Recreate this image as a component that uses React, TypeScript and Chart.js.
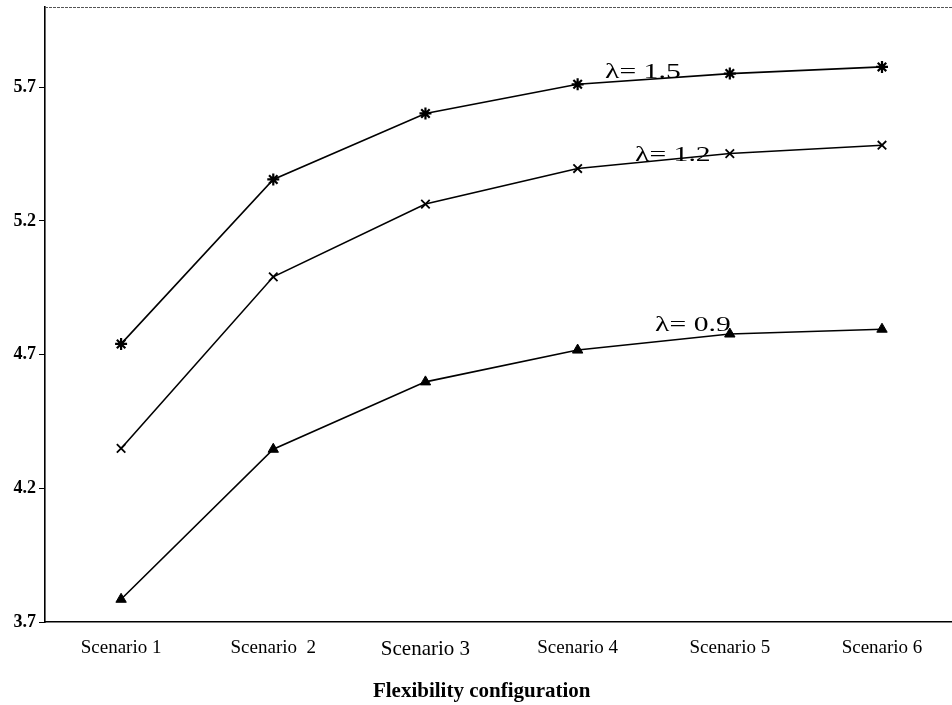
import React, { useEffect, useRef } from "react";
import { Chart, registerables } from "chart.js";

Chart.register(...registerables);

const categories = ["Scenario 1", "Scenario  2", "Scenario 3", "Scenario 4", "Scenario 5", "Scenario 6"];
const lambda15 = [4.74, 5.355, 5.602, 5.711, 5.751, 5.776];
const lambda12 = [4.349, 4.991, 5.263, 5.396, 5.452, 5.483];
const lambda09 = [3.785, 4.346, 4.598, 4.717, 4.777, 4.795];
const yTicks = [3.7, 4.2, 4.7, 5.2, 5.7];
const seriesLabels = ["λ= 1.5", "λ= 1.2", "λ= 0.9"];
const labelX = [4.18, 4.377, 4.509];
const labelY = [5.756, 5.446, 4.81];
const xTitle = "Flexibility configuration";

const SERIF = "'Liberation Serif', 'Times New Roman', serif";

const annotatePlugin = {
  id: "annotate",
  afterDraw(chart: any) {
    const { ctx, chartArea, scales } = chart;
    ctx.save();
    // top border
    ctx.strokeStyle = "#555";
    ctx.lineWidth = 1;
    ctx.setLineDash([3, 1]);
    ctx.beginPath();
    ctx.moveTo(chartArea.left, chartArea.top + 0.5);
    ctx.lineTo(chartArea.right, chartArea.top + 0.5);
    ctx.stroke();
    ctx.setLineDash([]);
    // series labels
    ctx.fillStyle = "#000";
    ctx.font = `22px ${SERIF}`;
    ctx.textBaseline = "middle";
    ctx.textAlign = "left";
    seriesLabels.forEach((t, i) => {
      const x = scales.x.getPixelForValue(labelX[i]);
      const y = scales.y.getPixelForValue(labelY[i]);
      ctx.save();
      ctx.translate(x, y);
      ctx.scale(1.35, 1);
      ctx.fillText(t, 0, 0);
      ctx.restore();
    });
    // axis title
    ctx.font = `bold 21px ${SERIF}`;
    ctx.textAlign = "center";
    ctx.fillText(xTitle, chart.width * 0.506, scales.x.bottom - 13);
    ctx.restore();
  },
};

export default function App() {
  const ref = useRef<HTMLCanvasElement | null>(null);
  useEffect(() => {
    if (!ref.current) return;
    const mk = (vals: number[], style: string, radius: number, bw: number) => ({
      data: vals.map((v, i) => ({ x: i + 1, y: v })),
      borderColor: "#000",
      backgroundColor: "#000",
      borderWidth: 1.6,
      pointStyle: style,
      pointRadius: radius,
      pointBorderWidth: bw,
      pointBorderColor: "#000",
      pointBackgroundColor: "#000",
      tension: 0,
    });
    const chart = new Chart(ref.current, {
      type: "line",
      data: {
        datasets: [
          mk(lambda15, "star", 6, 2.2),
          mk(lambda12, "crossRot", 6, 1.8),
          mk(lambda09, "triangle", 6, 1),
        ],
      },
      options: {
        responsive: false,
        animation: false,
        layout: { autoPadding: false, padding: { top: 7, left: 0, right: 0, bottom: 0 } },
        plugins: { legend: { display: false }, tooltip: { enabled: false } },
        scales: {
          x: {
            type: "linear",
            min: 0.5,
            max: 6.46,
            afterBuildTicks: (s: any) => {
              s.ticks = categories.map((_, i) => ({ value: i + 1 }));
            },
            afterFit: (s: any) => {
              s.height = 83;
              s.paddingLeft = 0;
              s.paddingRight = 0;
            },
            grid: { display: false, drawTicks: false },
            border: { display: true, color: "#000", width: 1.6 },
            ticks: {
              color: "#000",
              padding: 15,
              maxRotation: 0,
              autoSkip: false,
              font: (c: any) => ({ family: SERIF, size: c.index === 2 ? 21 : 19 }),
              callback: (v: any) => categories[Math.round(Number(v)) - 1] ?? "",
            },
            title: { display: false },
          },
          y: {
            type: "linear",
            min: 3.7,
            max: 6.0,
            afterBuildTicks: (s: any) => {
              s.ticks = yTicks.map((v) => ({ value: v }));
            },
            afterFit: (s: any) => {
              s.width = 45;
              s.paddingTop = 0;
              s.paddingBottom = 0;
            },
            grid: { display: true, drawOnChartArea: false, drawTicks: true, tickLength: 6, color: "#000" },
            border: { display: true, color: "#000", width: 1.6 },
            ticks: {
              color: "#000",
              padding: 3,
              font: { family: SERIF, size: 18, weight: "bold" },
              callback: (v: any) => Number(v).toFixed(1),
            },
          },
        },
      },
      plugins: [annotatePlugin],
    } as any);
    return () => chart.destroy();
  }, []);
  return (
    <div style={{ position: "fixed", left: 0, top: 0, width: 952, height: 705, background: "#fff" }}>
      <canvas ref={ref} width={952} height={705} />
    </div>
  );
}
